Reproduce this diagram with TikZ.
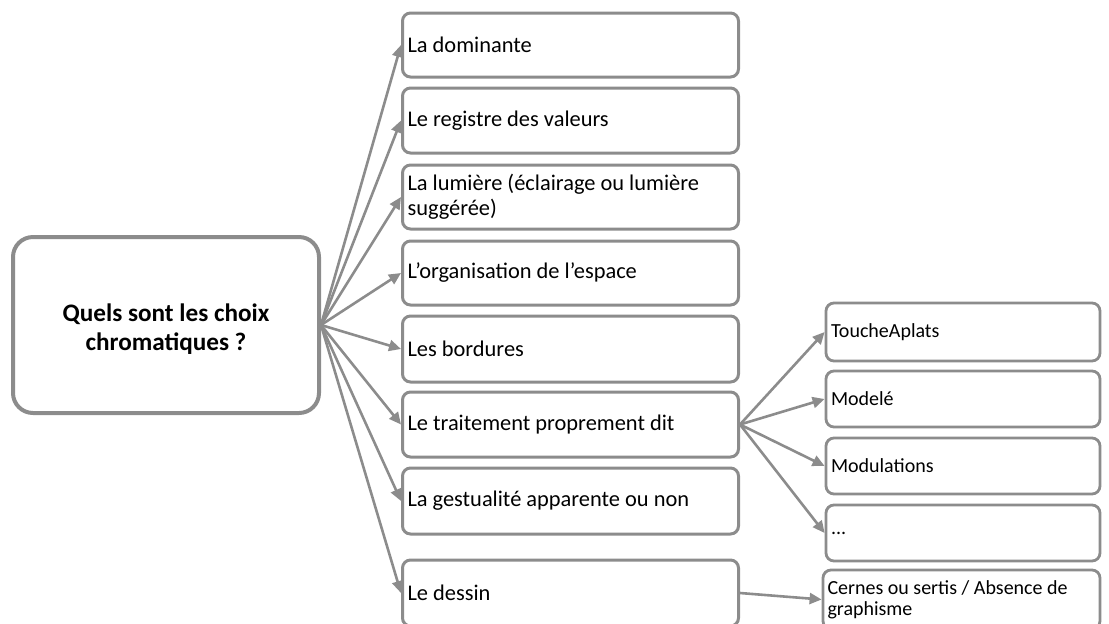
\documentclass[tikz,border=0pt]{standalone}
\usepackage{fontspec}
\setmainfont{Carlito}
\usetikzlibrary{arrows.meta}
\definecolor{bordergray}{HTML}{8C8C8C}
\begin{document}
\begin{tikzpicture}[x=0.5pt,y=-0.5pt,
  rootbox/.style={draw=bordergray, line width=2pt, rounded corners=10pt, fill=white,
    minimum width=153pt, minimum height=88pt, align=center,
    font=\fontsize{12.6pt}{13pt}\selectfont\bfseries},
  midbox/.style={draw=bordergray, line width=1.5pt, rounded corners=4pt, fill=white,
    minimum width=168pt, inner xsep=2.3pt, text width=163pt, align=flush left,
    font=\fontsize{11.2pt}{12.5pt}\selectfont},
  rightbox/.style={draw=bordergray, line width=1.4pt, rounded corners=4pt, fill=white,
    minimum width=137pt, minimum height=28pt, inner xsep=2pt, text width=132pt, align=flush left,
    font=\fontsize{10pt}{10.5pt}\selectfont},
  conn/.style={draw=bordergray, line width=1.3pt, -{Triangle[length=6pt,width=5.5pt]}}
]
\useasboundingbox (0,0) rectangle (1109,623);
\clip (0,0) rectangle (1109,623);

\node[rootbox, text depth=0pt, inner ysep=0pt, anchor=center] (root) at (166,325) {\raisebox{-2pt}{\shortstack{Quels sont les choix\\[1pt]chromatiques ?}}};

\node[midbox, minimum height=32pt] (m1) at (570.5,45) {La dominante};
\node[midbox, minimum height=32.5pt] (m2) at (570.5,120.5) {Le registre des valeurs};
\node[midbox, minimum height=32pt] (m3) at (570.5,197) {La lumière (éclairage ou lumière\\suggérée)};
\node[midbox, minimum height=32pt] (m4) at (570.5,273) {L’organisation de l’espace};
\node[midbox, minimum height=33pt] (m5) at (570.5,349) {Les bordures};
\node[midbox, minimum height=32.5pt] (m6) at (570.5,424.5) {Le traitement proprement dit};
\node[midbox, minimum height=33pt] (m7) at (570.5,501) {La gestualité apparente ou non};
\node[midbox, minimum height=33pt] (m8) at (570.5,593) {Le dessin};

\node[rightbox, minimum height=29pt] (r1) at (963,332) {ToucheAplats};
\node[rightbox] (r2) at (963,399) {Modelé};
\node[rightbox] (r3) at (963,466) {Modulations};
\node[rightbox] (r4) at (963,533) {...};
\node[rightbox, minimum width=138.5pt, text width=134pt, minimum height=29.5pt] (r5) at (961.5,599.5) {Cernes ou sertis / Absence de\\graphisme};

\foreach \n in {m1,m2,m3,m4,m5,m6,m7,m8}
  \draw[conn] (root.east) -- (\n.west);
\foreach \n in {r1,r2,r3,r4}
  \draw[conn] (m6.east) -- (\n.west);
\draw[conn] (m8.east) -- (r5.west);
\end{tikzpicture}
\end{document}
